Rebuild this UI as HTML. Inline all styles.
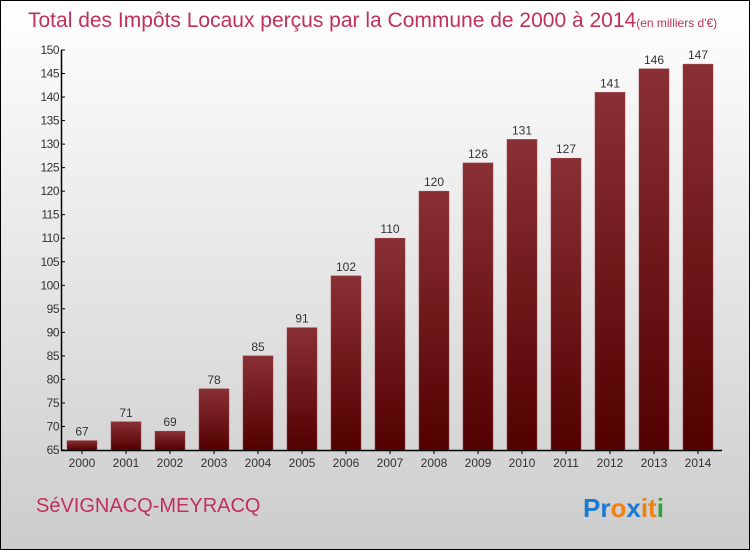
<!DOCTYPE html>
<html><head><meta charset="utf-8"><style>
body{margin:0}
#c{position:relative;width:750px;height:550px;box-sizing:border-box;border:1px solid #000;background:linear-gradient(#fff,#ccc);font-family:"Liberation Sans",sans-serif;overflow:hidden}
</style></head><body>
<div id="c">
<svg width="748" height="548" style="position:absolute;left:0;top:0">
<defs><linearGradient id="g" x1="0" y1="0" x2="0" y2="1"><stop offset="0" stop-color="#8a3034"/><stop offset="1" stop-color="#520000"/></linearGradient></defs>
<text x="27" y="26" font-size="21" fill="#c0305a">Total des Impôts Locaux perçus par la Commune de 2000 à 2014<tspan font-size="12">(en milliers d'€)</tspan></text>
<g id="bars"></g><g id="axes"></g>
<text x="35" y="511" font-size="20" fill="#c0305a">SéVIGNACQ-MEYRACQ</text>
<text x="582" y="516" font-size="26" font-weight="bold"><tspan fill="#1a7ad0">Pr</tspan><tspan fill="#f08010">o</tspan><tspan fill="#1a7ad0">x</tspan><tspan fill="#f08010">it</tspan><tspan fill="#30a040">i</tspan></text>
</svg></div>
<script>
const years=["2000","2001","2002","2003","2004","2005","2006","2007","2008","2009","2010","2011","2012","2013","2014"];
const values=[67,71,69,78,85,91,102,110,120,126,131,127,141,146,147];
const ticks=[65,70,75,80,85,90,95,100,105,110,115,120,125,130,135,140,145,150];
const NS="http://www.w3.org/2000/svg";
const y=v=>449-(v-65)*(400/85);
const x=i=>81+i*44;
function mk(t,a,p){const e=document.createElementNS(NS,t);for(const k in a)e.setAttribute(k,a[k]);p.appendChild(e);return e;}
const bars=document.getElementById('bars'),axes=document.getElementById('axes');
values.forEach((v,i)=>{
 const r=mk('rect',{x:x(i)-15,y:y(v),width:30,height:449-y(v),fill:'url(#g)',stroke:'#9a4048','stroke-width':0.5},bars);
 
 
 const t=mk('text',{x:x(i),y:y(v)-5,'text-anchor':'middle','font-size':12,fill:'#333'},bars);t.textContent=v;
 
 
 const l=mk('text',{x:x(i),y:466,'text-anchor':'middle','font-size':12,fill:'#333'},axes);l.textContent=years[i];
 
 
 mk('line',{x1:x(i),x2:x(i),y1:449,y2:453,stroke:'#000'},axes);
});
ticks.forEach(v=>{
 mk('line',{x1:60,x2:64,y1:y(v),y2:y(v),stroke:'#000'},axes);
 const t=mk('text',{x:58,y:y(v)+4,'text-anchor':'end','font-size':12,fill:'#333','letter-spacing':'-0.5'},axes);t.textContent=v;
 
 
});
const ya=mk('line',{x1:60.5,x2:60.5,y1:y(150),y2:449,stroke:'#000','stroke-width':1.5},axes);


const xa=mk('line',{x1:60,x2:721,y1:449.5,y2:449.5,stroke:'#000','stroke-width':1.5},axes);


</script>
</body></html>
